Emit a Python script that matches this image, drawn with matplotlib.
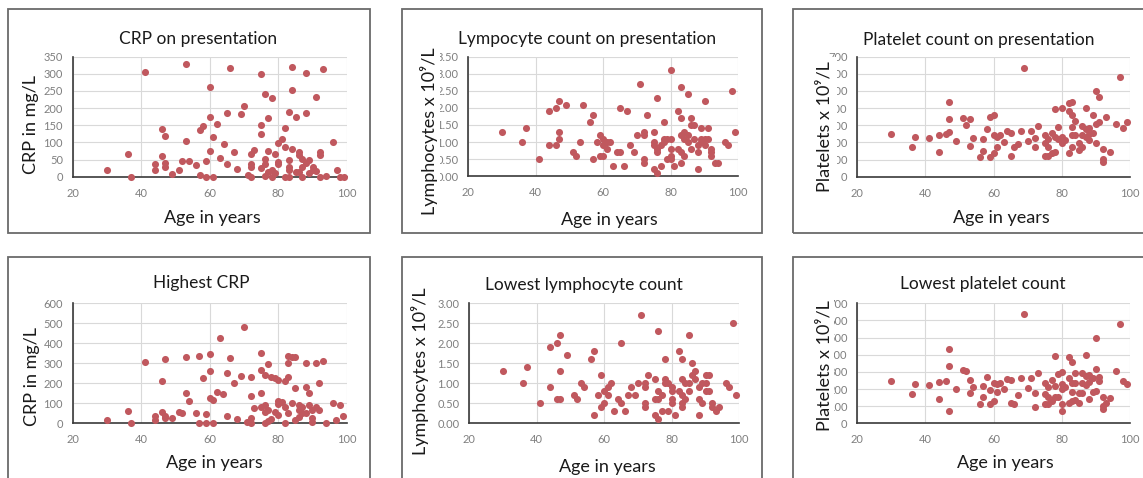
import matplotlib
matplotlib.use("Agg")
import matplotlib.pyplot as plt
from matplotlib.patches import Rectangle

plt.rcParams['font.family'] = ['Lato', 'DejaVu Sans']

W, H = 1143, 478

# ---- data (age in years, value) ----
crp_pres_age = [30,36,37,41,44,44,46,46,47,47,47,49,51,52,53,53,54,56,57,57,58,59,59,60,60,60,61,61,62,63,64,65,65,66,67,68,69,70,71,72,72,72,72,73,75,75,75,75,76,76,76,76,77,77,77,78,78,78,79,79,80,80,80,81,82,82,82,83,83,83,83,83,84,84,84,85,85,86,86,86,87,87,87,88,88,88,89,89,90,90,91,91,92,92,92,93,94,96,97,98,99]
crp_pres = [19,65,0,306,37,19,138,60,120,41,29,9,19,47,330,104,45,34,137,5,149,46,0,261,175,74,116,0,155,55,95,187,37,318,73,23,183,207,6,66,36,27,0,77,300,152,124,24,240,52,36,2,170,74,15,230,19,0,66,12,97,44,36,109,142,88,0,188,49,29,19,0,319,252,80,175,13,73,63,13,51,29,0,302,187,39,49,12,29,19,231,17,71,63,0,313,3,102,19,0,0]

lym_pres_age = [30,36,37,41,44,44,46,46,47,47,47,49,51,52,53,54,56,57,57,58,59,59,60,60,60,61,61,62,63,64,65,65,66,67,68,69,70,71,72,72,72,72,73,75,75,75,75,76,76,76,76,77,77,78,78,78,79,79,80,80,80,80,80,81,82,82,83,83,83,83,83,84,84,84,85,85,85,86,86,86,87,87,88,88,88,89,89,89,90,90,90,91,91,92,92,92,93,94,96,97,98,99]
lym_pres = [1.3,1.0,1.4,0.5,1.9,0.9,2.0,0.9,2.2,1.3,1.1,2.1,0.7,0.6,1.0,2.1,1.6,1.8,0.5,1.0,1.2,0.6,1.1,0.6,0.9,1.0,0.8,1.0,0.3,0.7,2.0,0.7,0.3,1.9,0.9,0.7,1.2,2.7,1.3,1.2,0.5,0.4,1.8,1.3,1.0,0.9,0.2,2.3,0.8,0.7,0.1,0.9,0.3,1.6,1.1,1.0,0.5,1.1,3.1,0.8,0.6,0.5,1.1,0.3,1.9,0.8,2.6,1.7,1.2,0.7,0.4,1.3,0.6,1.1,2.4,1.2,1.0,1.7,1.5,0.8,1.5,1.1,0.9,0.7,0.2,1.4,1.1,1.0,2.2,1.1,0.9,1.4,1.1,0.8,0.7,0.6,0.4,0.4,1.0,0.9,2.5,1.3]

plt_pres_age = [30,36,37,41,44,44,46,47,47,47,49,51,52,53,53,54,56,57,57,58,59,59,60,60,60,61,61,62,63,64,65,65,66,67,68,69,70,71,72,72,73,75,75,75,76,76,76,77,77,78,78,78,79,79,80,80,80,81,82,82,82,83,83,83,83,83,84,84,85,85,86,86,86,87,87,87,88,88,88,89,89,90,90,90,91,91,92,92,92,93,94,96,97,98,99]
plt_pres = [251,171,229,227,245,144,247,437,334,259,210,342,303,338,179,226,117,220,152,278,117,350,362,136,245,175,233,245,200,266,253,121,175,190,266,636,210,266,175,226,297,245,194,121,220,175,121,253,136,395,229,142,288,220,402,233,194,214,430,383,136,437,360,292,245,171,325,245,194,156,296,245,175,402,278,233,286,249,214,362,253,502,307,194,467,321,161,101,84,350,146,307,579,286,321]

crp_high_age = [30,36,37,41,44,44,46,46,47,47,47,49,51,52,53,53,54,56,57,57,58,59,59,60,60,60,61,61,62,63,64,65,65,66,67,68,69,70,71,72,72,72,72,73,75,75,75,75,76,76,76,76,77,77,77,78,78,79,79,80,80,80,80,81,82,82,82,83,83,83,83,84,84,85,85,85,86,86,86,87,87,88,88,88,89,89,90,90,90,91,91,92,92,93,94,96,97,98,99]
crp_high = [17,62,0,305,38,17,212,58,322,38,25,28,55,50,330,150,113,53,337,3,228,45,0,347,262,125,117,0,155,425,145,253,37,328,203,22,238,480,8,233,137,28,0,75,350,267,150,83,242,92,58,2,297,67,12,233,20,225,58,217,113,97,42,105,213,83,0,337,303,233,53,330,100,330,175,17,92,67,33,80,53,303,183,50,153,92,67,25,8,303,83,200,67,312,0,100,17,92,37]

lym_low_age = [30,36,37,41,44,44,46,46,47,47,47,49,51,52,53,54,56,57,57,58,59,59,60,60,61,61,62,63,64,65,65,66,67,68,69,70,71,72,72,72,72,73,75,75,75,76,76,76,76,77,77,78,78,78,79,79,80,80,80,80,81,82,82,83,83,83,83,83,84,84,85,85,85,86,86,87,87,88,88,88,89,89,90,90,90,91,91,92,92,93,94,96,97,98,99]
lym_low = [1.3,1.0,1.4,0.5,1.9,0.9,2.0,0.6,2.2,1.3,0.6,1.7,0.7,0.6,1.0,0.9,1.6,1.8,0.2,0.7,1.2,0.4,0.5,0.8,0.7,0.9,1.0,0.3,0.6,2.0,0.5,0.3,0.7,0.9,0.7,1.0,2.7,1.0,0.9,0.5,0.4,1.2,1.1,0.6,0.2,2.3,0.8,0.6,0.1,0.7,0.3,1.6,1.1,1.0,0.3,1.0,0.9,0.6,0.5,0.8,0.2,1.8,0.8,1.6,1.1,0.7,0.5,0.4,1.0,0.6,2.2,1.0,0.8,1.5,1.2,1.3,1.1,0.9,0.6,0.2,0.5,1.0,1.2,1.0,0.8,1.2,0.8,0.5,0.4,0.3,0.4,1.0,0.9,2.5,0.7]

plt_low_age = [30,36,37,41,44,44,46,47,47,47,49,51,52,53,53,54,56,57,57,58,59,59,60,60,61,61,62,63,64,65,65,66,67,68,69,70,71,72,72,73,75,75,75,76,76,76,77,77,78,78,78,79,79,80,80,80,80,80,81,82,82,82,83,83,83,83,84,84,84,85,85,86,86,86,87,87,87,88,88,88,89,89,90,90,90,91,91,92,92,92,93,94,96,97,98,99]
plt_low = [249,171,229,226,241,144,245,435,332,70,198,309,303,255,179,214,115,218,152,272,115,192,132,233,181,227,237,198,260,253,117,113,167,266,636,206,266,179,97,295,233,171,115,210,156,113,253,132,393,218,156,286,156,299,229,198,113,70,214,385,266,117,360,233,185,132,295,233,136,179,117,295,233,175,399,276,224,280,243,140,262,185,496,317,191,272,249,152,101,86,121,148,307,577,247,227]

x_ticks = [20, 40, 60, 80, 100]
crp_pres_ticks = [0, 50, 100, 150, 200, 250, 300, 350]
lym_pres_ticks = [0, 0.5, 1.0, 1.5, 2.0, 2.5, 3.0, 3.5]
plt_ticks = [0, 100, 200, 300, 400, 500, 600, 700]
crp_high_ticks = [0, 100, 200, 300, 400, 500, 600]
lym_low_ticks = [0, 0.5, 1.0, 1.5, 2.0, 2.5, 3.0]

DOT = '#c0585e'
TXT = '#1a1a1a'
TICK = '#7f7f7f'

fig = plt.figure(figsize=(W / 100, H / 100), dpi=100)
fig.patch.set_facecolor('white')


def fx(x):
    return x / W


def fy(y):
    return 1 - y / H


def panel(box, area, ages, vals, yticks, yfmt, title, title_xy,
          ylabel, ylabel_xy, xlabel_xy, cover=0):
    # outer chart border
    bl, bt, br, bb = box
    fig.add_artist(Rectangle((fx(bl), fy(bb)), fx(br - bl), (bb - bt) / H,
                             transform=fig.transFigure, fill=False,
                             edgecolor='#6a6a6a', lw=1.3, zorder=0))
    l, t, r, b = area
    ax = fig.add_axes([fx(l), fy(b), fx(r - l), (b - t) / H])
    ax.scatter(ages, vals, s=26, color=DOT, linewidths=0, zorder=3,
               clip_on=False)
    ax.set_xlim(20, 100)
    ax.set_ylim(yticks[0], yticks[-1])
    ax.set_xticks(x_ticks)
    ax.set_yticks(yticks)
    ax.set_yticklabels([yfmt(v) for v in yticks])
    ax.grid(True, color='#d9d9d9', lw=0.8)
    ax.set_axisbelow(True)
    for s in ['top', 'right']:
        ax.spines[s].set_visible(False)
    ax.spines['left'].set_color('#3a3a3a')
    ax.spines['bottom'].set_color('#3a3a3a')
    ax.spines['left'].set_linewidth(1.2)
    ax.spines['bottom'].set_linewidth(1.2)
    ax.tick_params(length=0, labelsize=8, colors=TICK)
    ax.tick_params(axis='y', pad=7)
    ax.tick_params(axis='x', pad=8)

    fig.text(fx(title_xy[0]), fy(title_xy[1]), title, ha='center',
             va='center', fontsize=12.5, color=TXT)
    fig.text(fx(xlabel_xy[0]), fy(xlabel_xy[1]), 'Age in years',
             ha='center', va='center', fontsize=13, color=TXT)
    kw = {}
    if cover:
        # the white label box hides the first digit of the tick labels
        kw['bbox'] = dict(facecolor='white', edgecolor='none', pad=cover)
    fig.text(fx(ylabel_xy[0]), fy(ylabel_xy[1]), ylabel, ha='center',
             va='center', rotation=90, fontsize=13, color=TXT, zorder=5,
             **kw)
    return ax


def fmt_int(v):
    return '%d' % v


def fmt_dec(v):
    return '%.2f' % v


lym_lab = 'Lymphocytes x 10\u2079/L'
plt_lab = 'Platelets x 10\u2079/L'

panel((8, 9, 370, 233), (72.7, 56.7, 347, 176.7), crp_pres_age, crp_pres,
      crp_pres_ticks, fmt_int, 'CRP on presentation', (198, 39),
      'CRP in mg/L', (31, 124), (212, 218))
panel((402, 9, 762, 233), (468.3, 56.7, 738.3, 176.2), lym_pres_age,
      lym_pres, lym_pres_ticks, fmt_dec, 'Lympocyte count on presentation',
      (587, 39), lym_lab, (429, 131), (609, 220), cover=1.5)
panel((793, 9, 1160, 233), (857.3, 56.7, 1130, 176.7), plt_pres_age,
      plt_pres, plt_ticks, fmt_int, 'Platelet count on presentation',
      (979, 40), plt_lab, (825, 127), (1001, 218), cover=3)
panel((8, 257, 370, 490), (72.7, 303.3, 346.7, 423.3), crp_high_age,
      crp_high, crp_high_ticks, fmt_int, 'Highest CRP', (201, 283),
      'CRP in mg/L', (32, 376), (214, 463))
panel((402, 257, 762, 490), (469.3, 303.3, 739.3, 423.3), lym_low_age,
      lym_low, lym_low_ticks, fmt_dec, 'Lowest lymphocyte count',
      (584, 285), lym_lab, (420, 371), (607, 467))
panel((793, 257, 1160, 490), (857.3, 303.3, 1130, 423.3), plt_low_age,
      plt_low, plt_ticks, fmt_int, 'Lowest platelet count', (983, 284),
      plt_lab, (824, 366), (1005, 463), cover=1.5)

fig.savefig('out.png', dpi=100, facecolor='white')
